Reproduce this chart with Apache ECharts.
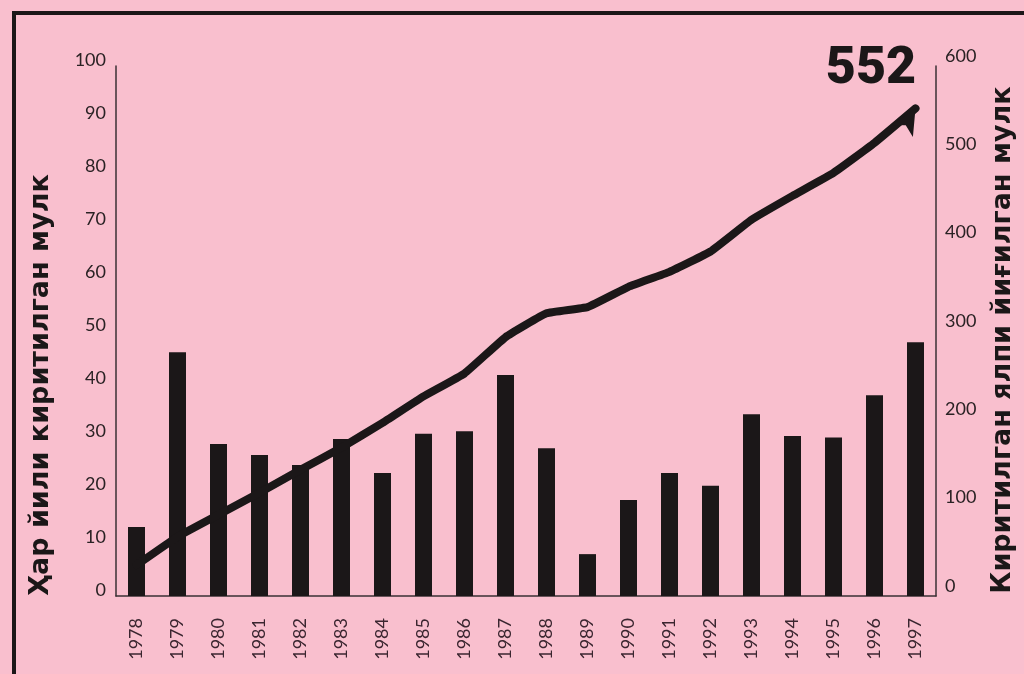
<!DOCTYPE html>
<html>
<head>
<meta charset="utf-8">
<script src="https://cdn.jsdelivr.net/npm/echarts@6/dist/echarts.min.js"></script>
<style>
  html, body { margin: 0; padding: 0; background: #f9bfce; }
  #chart { width: 1024px; height: 674px; }
</style>
</head>
<body>
<div id="chart"></div>
<script>
// Years on the category axis
const years = ['1978','1979','1980','1981','1982','1983','1984','1985','1986','1987',
               '1988','1989','1990','1991','1992','1993','1994','1995','1996','1997'];
// Property put in each year (left axis)
const annual = [13, 46, 28.7, 26.6, 24.7, 29.6, 23.2, 30.6, 31.1, 41.7,
                27.9, 7.9, 18.1, 23.2, 20.8, 34.3, 30.2, 29.9, 37.9, 47.9];
// Total property built up (right axis)
const total = [35, 67, 92, 117, 143, 168, 196, 226, 252, 293,
               320, 327, 350, 367, 390, 426, 453, 479, 513, 552];
const leftName = 'Ҳар йили киритилган мулк';
const rightName = 'Киритилган ялпи йиғилган мулк';

const ink = '#1b1718';
const chart = echarts.init(document.getElementById('chart'));

// last point carries the arrow head and the total written above it
const lineData = total.map((v, i) => i === total.length - 1 ? {
  value: v,
  symbol: 'arrow',
  symbolSize: [18, 26],
  symbolRotate: -30,
  label: {
    show: true,
    position: 'inside',
    offset: [-38, -50],
    formatter: '{c}',
    fontFamily: 'Roboto',
    fontWeight: 900,
    fontSize: 52,
    color: ink
  }
} : v);

chart.setOption({
  backgroundColor: '#f9bfce',
  animation: false,
  grid: { left: 116, right: 88, top: 66, bottom: 78 },
  xAxis: {
    type: 'category',
    data: years,
    axisLine: { lineStyle: { color: '#3a3034', width: 1.5 } },
    axisTick: { show: false },
    axisLabel: {
      rotate: 90,
      margin: 22,
      fontFamily: 'Lato',
      fontSize: 18,
      color: '#3b2630'
    }
  },
  yAxis: [{
    type: 'value',
    min: 0, max: 100, interval: 10,
    splitLine: { show: false },
    axisLine: { show: true, lineStyle: { color: '#3a3034', width: 1.5 } },
    axisTick: { show: false },
    axisLabel: {
      margin: 10,
      fontFamily: 'Lato',
      fontSize: 18,
      color: '#2a2224',
      verticalAlign: 'bottom',
      lineHeight: 12
    }
  }, {
    type: 'value',
    min: 0, max: 600, interval: 100,
    position: 'right',
    splitLine: { show: false },
    axisLine: { show: true, lineStyle: { color: '#3a3034', width: 1.5 } },
    axisTick: { show: false },
    axisLabel: {
      margin: 9,
      fontFamily: 'Lato',
      fontSize: 18,
      color: '#2a2224',
      verticalAlign: 'bottom',
      lineHeight: 20
    }
  }],
  series: [{
    type: 'bar',
    data: annual,
    yAxisIndex: 0,
    barWidth: 17,
    itemStyle: { color: ink }
  }, {
    type: 'line',
    data: lineData,
    yAxisIndex: 1,
    symbol: 'none',
    showSymbol: true,
    smooth: 0.1,
    lineStyle: { color: ink, width: 8, cap: 'round', join: 'round' },
    itemStyle: { color: ink },
    z: 5
  }],
  graphic: [
    // page frame: top rule and left rule
    { type: 'rect', shape: { x: 12, y: 11, width: 1012, height: 4 }, style: { fill: ink } },
    { type: 'rect', shape: { x: 12, y: 11, width: 4, height: 663 }, style: { fill: ink } },
    {
      type: 'text', x: 41, y: 385, rotation: Math.PI / 2,
      style: {
        text: leftName, align: 'center', verticalAlign: 'middle',
        fontFamily: 'DejaVu Sans', fontWeight: 'bold', fontSize: 27, fill: ink
      }
    },
    {
      type: 'text', x: 1003, y: 340, rotation: Math.PI / 2,
      style: {
        text: rightName, align: 'center', verticalAlign: 'middle',
        fontFamily: 'DejaVu Sans', fontWeight: 'bold', fontSize: 27, fill: ink
      }
    }
  ]
});
</script>
</body>
</html>
